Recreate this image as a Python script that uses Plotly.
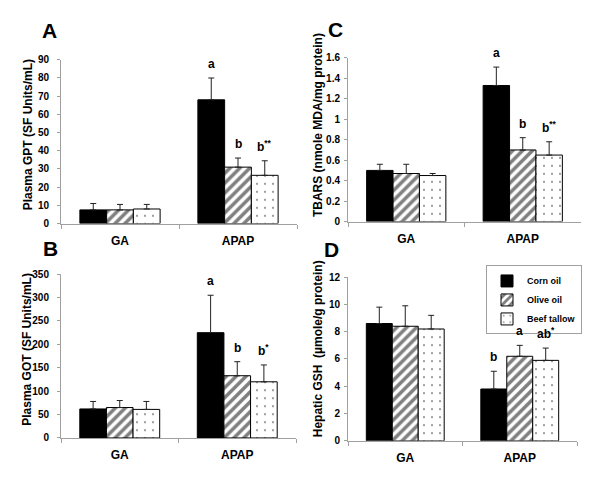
import plotly.graph_objects as go

groups = ["GA", "APAP"]
oils = ["Corn oil", "Olive oil", "Beef tallow"]

# panel A: plasma GPT
gpt_means = [[7.5, 68], [7.5, 31], [8, 26.5]]
gpt_errs = [[3.5, 12], [3, 5], [2.5, 8]]
gpt_marks = ["a", "b", "b<sup>**</sup>"]

# panel B: plasma GOT
got_means = [[62, 225], [65, 133], [61, 120]]
got_errs = [[16, 80], [15, 30], [17, 36]]
got_marks = ["a", "b", "b<sup>*</sup>"]

# panel C: TBARS
tbars_means = [[0.50, 1.33], [0.47, 0.70], [0.45, 0.65]]
tbars_errs = [[0.06, 0.18], [0.09, 0.12], [0.02, 0.13]]
tbars_marks = ["a", "b", "b<sup>**</sup>"]

# panel D: hepatic GSH
gsh_means = [[8.6, 3.8], [8.4, 6.2], [8.2, 5.9]]
gsh_errs = [[1.2, 1.3], [1.5, 0.8], [1.0, 0.9]]
gsh_marks = ["b", "a", "ab<sup>*</sup>"]

FONT = "Arial, Liberation Sans, sans-serif"
AXIS_GREY = "#a0a0a0"
BARGAP = 0.32

# the page body has an 8px margin, so lay the figure out in page pixels minus that
W, H, OFF = 592, 472, 8


def px(x):
    return (x - OFF) / W


def py(y):
    return 1 - (y - OFF) / H


styles = [
    dict(color="black"),
    dict(color="white", pattern=dict(shape="/", fgcolor="black", bgcolor="white",
                                     size=7, solidity=0.5)),
    dict(color="white", pattern=dict(shape=".", fgcolor="black", bgcolor="white",
                                     size=8, solidity=0.05)),
]

panels = [
    # letter, means, errs, marks, y title, y range, dtick, axis no, x px, y px,
    # letter px, title px, tick label standoff
    ("A", gpt_means, gpt_errs, gpt_marks, "Plasma GPT (SF Units/mL)", [0, 90], 10, 1,
     (61, 297), (55, 223), (49.5, 25), (27.5, 132), 6),
    ("C", tbars_means, tbars_errs, tbars_marks, "TBARS (nmole MDA/mg protein)", [0, 1.6], 0.2, 2,
     (348, 581), (53, 221), (335.5, 24), (318, 122), 2),
    ("B", got_means, got_errs, got_marks, "Plasma GOT (SF Units/mL)", [0, 350], 50, 3,
     (61, 296), (275, 443), (50, 249), (27.5, 352), 6),
    ("D", gsh_means, gsh_errs, gsh_marks, "Hepatic GSH  (\u00b5mole/g protein)", [0, 12], 2, 4,
     (348, 577), (278, 446), (331, 250), (318, 352), 2),
]

fig = go.Figure()
annotations = []
w = (1 - BARGAP) / 3

for letter, means, errs, marks, ytitle, yrange, dtick, k, xpx, ypx, lpos, tpos, ystand in panels:
    xa = "x" if k == 1 else f"x{k}"
    ya = "y" if k == 1 else f"y{k}"
    for j, oil in enumerate(oils):
        fig.add_trace(go.Bar(
            x=groups, y=means[j], name=oil,
            xaxis=xa, yaxis=ya,
            showlegend=(letter == "D"),
            marker=dict(line=dict(color="black", width=1), **styles[j]),
            error_y=dict(type="data", array=errs[j], arrayminus=[0] * len(groups),
                         symmetric=False, color="#222222", thickness=1, width=3),
        ))
        # significance letters over the APAP bars
        annotations.append(dict(
            x=1 + (j - 1) * w, y=means[j][1] + errs[j][1], xref=xa, yref=ya,
            text=marks[j], showarrow=False, xanchor="center", yanchor="bottom", yshift=5,
            font=dict(family=FONT, size=12, color="black", weight="bold"),
        ))
    annotations.append(dict(
        x=px(lpos[0]), y=py(lpos[1]), xref="paper", yref="paper", text=letter,
        showarrow=False, xanchor="center", yanchor="middle",
        font=dict(family=FONT, size=21, color="black", weight="bold"),
    ))
    annotations.append(dict(
        x=px(tpos[0]), y=py(tpos[1]), xref="paper", yref="paper", text=ytitle,
        showarrow=False, xanchor="center", yanchor="middle", textangle=-90,
        font=dict(family=FONT, size=12, color="black", weight="bold"),
    ))
    axname = "" if k == 1 else str(k)
    fig.update_layout(**{
        f"xaxis{axname}": dict(
            domain=[px(xpx[0]), px(xpx[1])], anchor=ya, type="category",
            showline=True, linecolor=AXIS_GREY,
            ticks="outside", tickson="boundaries", ticklen=4, tickcolor=AXIS_GREY,
            showgrid=False, ticklabelstandoff=6,
            tickfont=dict(family=FONT, size=12, color="black", weight="bold"),
        ),
        f"yaxis{axname}": dict(
            domain=[py(ypx[1]), py(ypx[0])], anchor=xa, range=yrange, dtick=dtick,
            showline=True, linecolor=AXIS_GREY, ticks="outside", ticklen=3,
            tickcolor=AXIS_GREY, showgrid=False, zeroline=False, ticklabelstandoff=ystand,
            tickfont=dict(family=FONT, size=10, color="black", weight="bold"),
        ),
    })

fig.update_layout(
    width=W, height=H,
    margin=dict(l=0, r=0, t=0, b=0),
    paper_bgcolor="white", plot_bgcolor="white",
    barmode="group", bargap=BARGAP, bargroupgap=0,
    annotations=annotations,
    legend=dict(
        x=px(582), xanchor="right", y=py(266), yanchor="top",
        bordercolor=AXIS_GREY, borderwidth=1, bgcolor="white",
        itemwidth=30, tracegroupgap=0,
        font=dict(family=FONT, size=9, color="black", weight="bold"),
    ),
)

fig.write_html("out.html")
